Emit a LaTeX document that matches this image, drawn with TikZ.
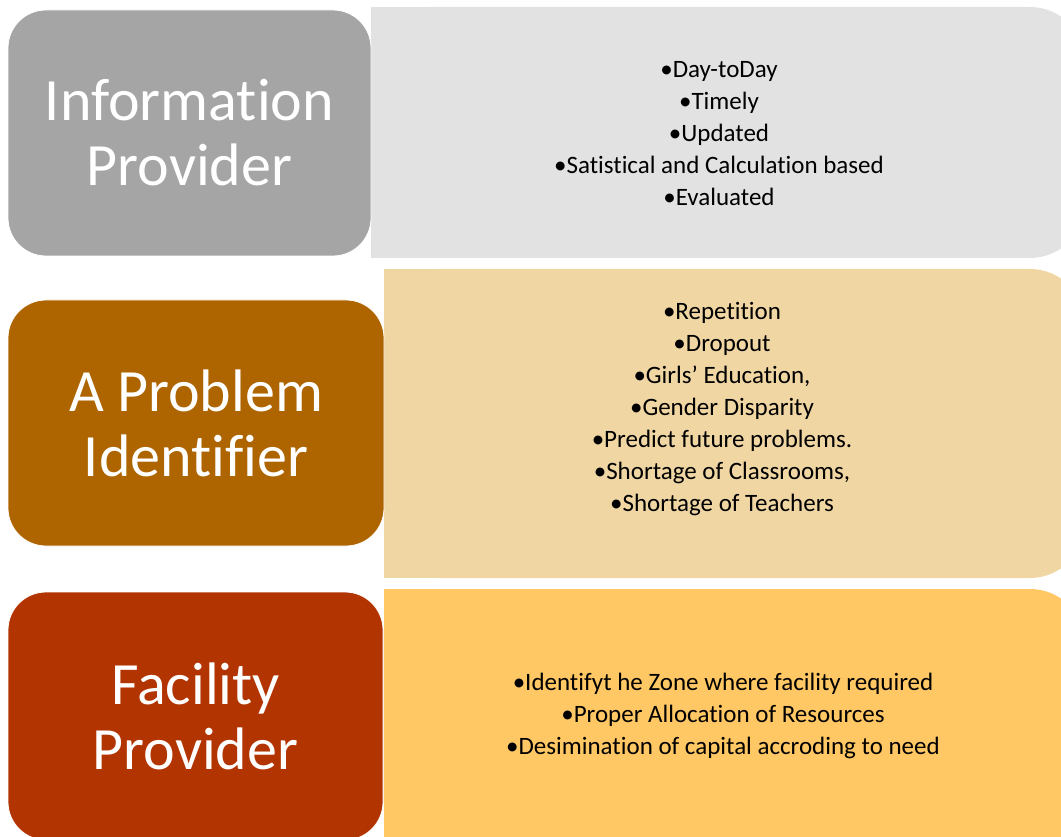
\documentclass[tikz,border=0pt]{standalone}
\usepackage{fontspec}
\setmainfont[RawFeature={-liga;-clig;-calt}]{Carlito}
\usepackage{tikz}
\definecolor{infogray}{RGB}{165,165,165}
\definecolor{infolight}{RGB}{226,226,226}
\definecolor{probbrown}{RGB}{174,101,0}
\definecolor{problight}{RGB}{240,214,163}
\definecolor{facred}{RGB}{178,52,0}
\definecolor{faclight}{RGB}{255,200,100}
\tikzstyle{role} = [rectangle, draw=white, thick, rounded corners=38pt,
                 text=white, align=center, inner sep=0pt,
                 font=\fontsize{60}{65}\selectfont]
\tikzstyle{points} = [align=center, inner sep=0pt,
                 font=\fontsize{25}{32}\selectfont]
\tikzset{
	panel/.style={rounded corners=55pt},
}

\begin{document}
\begin{tikzpicture}[x=1pt, y=-1pt]

\useasboundingbox (0,0) rectangle (1061,837);

%panels
\fill [infolight, panel] (371,7) rectangle (1085,258);
\fill [infolight] (371,7) rectangle (600,258);
\fill [problight, panel] (384,269) rectangle (1085,578);
\fill [problight] (384,269) rectangle (600,578);
\fill [faclight, panel] (384,589) rectangle (1085,880);
\fill [faclight] (384,589) rectangle (600,880);

%roles
\node [role, fill=infogray, minimum width=363, minimum height=246] at (189.5,133) (info) {};
\node [role, fill=probbrown, minimum width=376, minimum height=246] at (196,423) (prob) {};
\node [role, fill=facred, minimum width=375, minimum height=248] at (195.5,716) (fac) {};

\node [text=white, align=center, font=\fontsize{60}{65}\selectfont] at (info) (infolabel) {Information\\Provider};
\node [text=white, align=center, font=\fontsize{60}{65}\selectfont] at (prob) (problabel) {A Problem\\Identifier};
\node [text=white, align=center, font=\fontsize{60}{65}\selectfont] at (fac) (faclabel) {Facility\\Provider};

%bullets
\node [points] at (719,134) (infolist) {\textbullet Day-toDay\\\textbullet Timely\\\textbullet Updated\\
	\textbullet Satistical and Calculation based\\\textbullet Evaluated};
\node [points] at (722,409) (problist) {\textbullet Repetition\\\textbullet Dropout\\
	\textbullet Girls’ Education,\\\textbullet Gender Disparity\\\textbullet Predict future problems.\\
	\textbullet Shortage of Classrooms,\\\textbullet Shortage of Teachers};
\node [points] at (723,716) (faclist) {\textbullet Identifyt he Zone where facility required\\
	\textbullet Proper Allocation of Resources\\\textbullet Desimination of capital accroding to need};

\end{tikzpicture}
\end{document}
